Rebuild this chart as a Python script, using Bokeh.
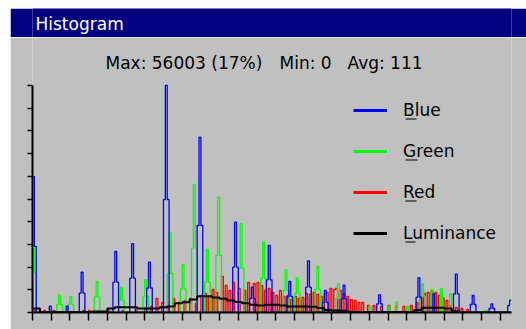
from bokeh.plotting import figure
from bokeh.layouts import column
from bokeh.models import (Range1d, FixedTicker, Label, Legend, LegendItem,
                          BoxAnnotation)
from bokeh.embed import file_html
from bokeh.resources import INLINE

# ---------------- data ----------------
N_BINS = 256
Y_MAX = 56003
x_ticks = list(range(0, 251, 10))
y_ticks = [Y_MAX * i / 10 for i in range(11)]

title_text = "Histogram"
stats_texts = ["Max: 56003 (17%)", "Min: 0", "Avg: 111"]
legend_labels = ["Blue", "Green", "Red", "Luminance"]

blue_bins = [0, 1, 9, 18, 25, 26, 27, 43, 44, 45, 52, 53, 54, 61, 62, 63,
             70, 71, 72, 88, 89, 90, 107, 108, 109, 116, 117, 118, 125, 126,
             127, 136, 137, 138, 146, 147, 148, 155, 156, 157, 165, 166, 167,
             184, 185, 186, 205, 206, 207, 214, 225, 226, 227, 234, 235, 236,
             244, 245, 246, 254, 255]
blue_vals = [33500, 16300, 1550, 1550, 4800, 9940, 4800, 7470, 15050, 7470,
             8460, 16970, 8460, 6040, 12410, 6040, 27880, 56003, 27880, 21460,
             43250, 21460, 11180, 22280, 11180, 3450, 6240, 3450, 8070, 16530,
             8070, 3950, 7650, 3950, 6240, 12750, 6240, 2470, 5430, 2470, 3380,
             6730, 3380, 2150, 4370, 2150, 3770, 8560, 3770, 4610, 4610, 9450,
             4610, 1970, 4190, 1970, 990, 2150, 990, 1730, 3030]

green_bins = [0, 1, 13, 14, 15, 19, 20, 21, 33, 34, 35, 46, 47, 48, 59, 60,
              61, 72, 73, 74, 79, 80, 81, 85, 86, 87, 92, 93, 94, 98, 99, 100,
              110, 111, 112, 122, 123, 124, 134, 135, 136, 140, 141, 142, 151,
              152, 153, 162, 163, 164, 180, 190, 194, 200, 207, 208, 209, 213,
              218, 223, 242]
green_vals = [16000, 9900, 1970, 4370, 1970, 1970, 3950, 1970, 3770, 7650,
              3770, 2960, 6240, 2960, 3950, 8090, 3950, 9620, 19610, 9620,
              5850, 11840, 5850, 15860, 31580, 15860, 7470, 15540, 7470, 14060,
              28440, 14060, 10850, 21880, 10850, 8390, 17340, 8390, 5430,
              10530, 5430, 4690, 8560, 4690, 5670, 11350, 5670, 3450, 7080,
              3450, 1480, 1480, 2540, 1480, 3950, 7080, 3950, 5600, 5850, 4610,
              490]

red_bins = [0, 1, 6, 11, 27, 30, 40, 48, 55, 60, 63, 66, 69, 72, 75, 78, 81,
            84, 87, 90, 92, 94, 96, 98, 101, 103, 105, 107, 110, 113, 115, 118,
            120, 122, 124, 126, 128, 130, 132, 134, 136, 138, 140, 142, 144,
            146, 148, 150, 152, 154, 156, 157, 159, 161, 162, 164, 166, 168,
            170, 172, 174, 176, 179, 182, 186, 190, 194, 198, 202, 205, 207,
            209, 211, 213, 215, 217, 219, 221, 223, 226, 229, 232]
red_vals = [490, 490, 490, 490, 490, 490, 490, 490, 490, 990, 1480, 3450,
            2470, 1730, 3450, 2470, 2960, 3450, 2220, 4190, 4690, 3950, 5670,
            4930, 8880, 6660, 5430, 7400, 5920, 5430, 7400, 7150, 7400, 6660,
            5430, 5920, 4930, 4190, 5430, 3950, 4190, 3200, 3950, 3450, 3700,
            4690, 4440, 4930, 4440, 3950, 4690, 4930, 5920, 5670, 5920, 5430,
            4690, 3950, 3200, 2960, 2470, 2470, 1730, 1730, 1480, 1730, 1480,
            1480, 1730, 2470, 3450, 4690, 4930, 5430, 4930, 4190, 3450, 2960,
            1730, 1230, 990, 740]

lum_bins = list(range(0, 256, 4))
lum_vals = [990, 120, 120, 120, 120, 120, 120, 120, 250, 250, 1000, 1300,
            1300, 1300, 990, 990, 990, 1300, 1500, 2300, 2540, 3200, 4000,
            4000, 3700, 3400, 2960, 2600, 2300, 1900, 1700, 1900, 1900, 1700,
            1500, 1500, 1500, 1400, 1100, 600, 500, 450, 200, 150, 120, 120,
            120, 120, 120, 120, 150, 600, 1160, 1160, 1160, 1000, 300, 0, 0,
            0, 0, 0, 0, 0]

series_colors = ["#0000FF", "#00FF00", "#FF0000", "#000000"]

# ---------------- helpers ----------------
def full_hist(bins, vals):
    arr = [0] * N_BINS
    for b, v in zip(bins, vals):
        arr[b] = v
    return arr


def step_xy(edges, vals):
    return list(edges) + [N_BINS], list(vals) + [vals[-1]]


GRAY = "#C0C0C0"
NAVY = "#000080"
FONT = "DejaVu Sans"

# layout (pixels): window 526 x 329, left white strip 10 px, white top 8 px
LEFT_STRIP = 10
BAR_H = 29
MAIN_H = 292
FIG_W = 526 - LEFT_STRIP
FRAME_TOP_GAP = 48          # stats line area above the y-axis top
FRAME_H_AXIS = 227          # height of the y-axis (0 .. Y_MAX)

# ---------------- title bar ----------------
bar = figure(width=FIG_W, height=BAR_H, output_backend="svg",
             toolbar_location=None, x_axis_type=None, y_axis_type=None,
             x_range=Range1d(0, 1), y_range=Range1d(0, 1),
             min_border=0, background_fill_color=NAVY,
             border_fill_color=NAVY, outline_line_color=None,
             margin=(8, 0, 0, LEFT_STRIP))
bar.grid.visible = False
bar.add_layout(Label(x=3, y=13.5, x_units="screen", y_units="screen",
                     text=title_text, text_color="white", text_font=FONT,
                     text_font_size="17px", text_align="left",
                     text_baseline="middle"))

# ---------------- histogram ----------------
y_top = Y_MAX * (FRAME_H_AXIS + FRAME_TOP_GAP) / FRAME_H_AXIS
p = figure(width=FIG_W, height=MAIN_H, output_backend="svg",
           toolbar_location=None,
           x_range=Range1d(0, N_BINS), y_range=Range1d(0, y_top),
           min_border_left=22, min_border_right=15, min_border_top=0,
           min_border_bottom=17, background_fill_color=GRAY,
           border_fill_color=GRAY, outline_line_color=None,
           margin=(0, 0, 0, LEFT_STRIP))
p.xgrid.visible = False
p.ygrid.visible = False

for ax, tks, tout in ((p.xaxis[0], x_ticks, 8), (p.yaxis[0], y_ticks, 5)):
    ax.ticker = FixedTicker(ticks=tks, minor_ticks=[])
    ax.major_tick_out = tout
    ax.major_tick_in = 0
    ax.minor_tick_out = 0
    ax.minor_tick_in = 0
    ax.major_label_text_font_size = "1px"
    ax.major_label_text_color = None
    ax.major_label_standoff = 0
    ax.axis_line_width = 2
    ax.axis_line_color = "black"
    ax.major_tick_line_width = 1.5
    ax.major_tick_line_color = "black"
p.yaxis[0].bounds = (0, Y_MAX)

edges = list(range(N_BINS))
for bins, vals, color in ((red_bins, red_vals, series_colors[2]),
                          (green_bins, green_vals, series_colors[1]),
                          (blue_bins, blue_vals, series_colors[0])):
    xs, ys = step_xy(edges, full_hist(bins, vals))
    p.step(xs, ys, mode="after", line_color=color, line_width=1.3)

lx, ly = step_xy(lum_bins, lum_vals)
p.step(lx, ly, mode="after", line_color=series_colors[3], line_width=2)

# legend proxies: single-point lines (draw nothing in the plot area)
proxies = [p.line(x=[lum_bins[0]], y=[lum_vals[0]], line_color=c, line_width=3)
           for c in series_colors]
legend = Legend(items=[LegendItem(label=l, renderers=[r])
                       for l, r in zip(legend_labels, proxies)],
                location=(321, 69), glyph_width=34, glyph_height=20,
                label_height=20, spacing=21, padding=0, margin=0,
                border_line_color=None, background_fill_alpha=0,
                label_text_font=FONT, label_text_font_size="17px",
                label_text_color="black", label_standoff=16)
p.add_layout(legend)

# access-key underlines under the first letter of each legend label
for i, w in enumerate([11, 12, 11, 10]):
    base = 193 - 41 * i
    p.add_layout(BoxAnnotation(left=373, right=373 + w, bottom=base,
                               top=base + 1, left_units="screen",
                               right_units="screen", top_units="screen",
                               bottom_units="screen", fill_color="black",
                               fill_alpha=1, line_color=None))

# statistics line (three pieces, as spaced in the reference)
for txt, sx in zip(stats_texts, [73, 247, 315]):
    p.add_layout(Label(x=sx, y=250, x_units="screen", y_units="screen",
                       text=txt, text_color="black", text_font=FONT,
                       text_font_size="17px", text_align="left",
                       text_baseline="middle"))

layout = column(bar, p, spacing=0)
open("out.html", "w").write(file_html(layout, INLINE))
